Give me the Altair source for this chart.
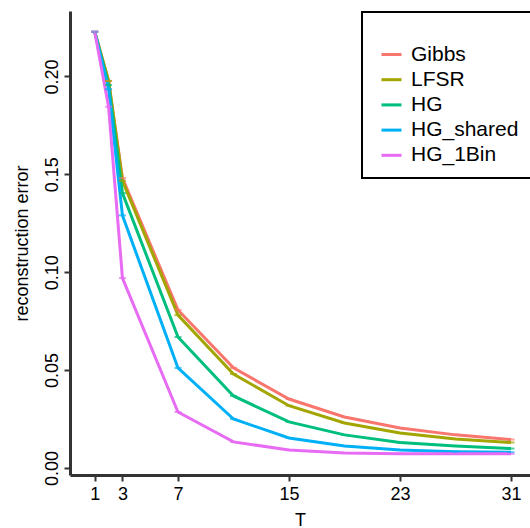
import altair as alt
import pandas as pd

T_vals = [1, 2, 3, 7, 11, 15, 19, 23, 27, 31]
methods = ["Gibbs", "LFSR", "HG", "HG_shared", "HG_1Bin"]
colors = ["#F8766D", "#A3A500", "#00BF7D", "#00B0F6", "#E76BF3"]

gibbs     = [0.2228, 0.1977, 0.1480, 0.0807, 0.0511, 0.0352, 0.0260, 0.0204, 0.0169, 0.0145]
lfsr      = [0.2228, 0.1977, 0.1466, 0.0781, 0.0480, 0.0318, 0.0230, 0.0179, 0.0148, 0.0130]
hg        = [0.2228, 0.1956, 0.1404, 0.0669, 0.0368, 0.0235, 0.0169, 0.0130, 0.0112, 0.0099]
hg_shared = [0.2228, 0.1935, 0.1290, 0.0511, 0.0250, 0.0153, 0.0112, 0.0092, 0.0083, 0.0080]
hg_1bin   = [0.2228, 0.1845, 0.0970, 0.0286, 0.0133, 0.0092, 0.0077, 0.0073, 0.0072, 0.0072]

x_ticks = [1, 3, 7, 15, 23, 31]
y_ticks = [0.0, 0.05, 0.10, 0.15, 0.20]

series = [gibbs, lfsr, hg, hg_shared, hg_1bin]
rows = []
for oi, (m, vals) in enumerate(zip(methods, series)):
    for t, v in zip(T_vals, vals):
        rows.append({"T": t, "err": v, "method": m, "order": oi})
df = pd.DataFrame(rows)

FONT = "Liberation Sans"

x_enc = alt.X("T:Q", scale=alt.Scale(domain=[-0.78, 32.37], nice=False, zero=False),
              axis=alt.Axis(values=x_ticks, title="T", grid=False,
                            domainColor="#333333", domainWidth=3,
                            tickColor="#333333", tickWidth=2, tickSize=6,
                            labelFontSize=18, labelColor="black", labelPadding=4,
                            labelFont=FONT, titleFont=FONT, titleFontSize=18,
                            titleFontWeight="normal", titleColor="black", titlePadding=8))
y_enc = alt.Y("err:Q", scale=alt.Scale(domain=[-0.0036, 0.2334], nice=False, zero=False),
              axis=alt.Axis(values=y_ticks, format=".2f", title="reconstruction error", grid=False,
                            domainColor="#333333", domainWidth=3,
                            tickColor="#333333", tickWidth=2, tickSize=6,
                            labelFontSize=18, labelColor="black", labelPadding=3,
                            labelAngle=270, labelAlign="center", labelBaseline="bottom",
                            labelFont=FONT, titleFont=FONT, titleFontSize=18,
                            titleFontWeight="normal", titleColor="black", titlePadding=12))

color_enc = alt.Color("method:N", scale=alt.Scale(domain=methods, range=colors),
                      legend=alt.Legend(title=" ", orient="none", legendX=292, legendY=1,
                                        padding=12, strokeColor="black", fillColor="white",
                                        symbolType="stroke", symbolSize=400, symbolStrokeWidth=3,
                                        symbolOffset=6,
                                        labelFontSize=21, labelFont=FONT, labelColor="black",
                                        labelOffset=8, rowPadding=3.2,
                                        titleFontSize=15, titlePadding=4))

lines = alt.Chart(df).mark_line(strokeWidth=3).encode(
    x=x_enc, y=y_enc, color=color_enc, order=alt.Order("T:Q"),
    detail="order:N"
)
ticks = alt.Chart(df).mark_tick(orient="horizontal", size=7, thickness=2).encode(
    x="T:Q", y="err:Q", color=alt.Color("method:N", legend=None)
)

chart = alt.layer(lines, ticks).properties(
    width=460, height=464,
    autosize=alt.AutoSizeParams(type="none"),
    padding={"left": 70, "top": 11, "right": 0, "bottom": 53},
).configure_view(stroke=None).configure_legend(strokeWidth=2)

chart.save("out.html", embed_options={"renderer": "svg", "actions": False})
